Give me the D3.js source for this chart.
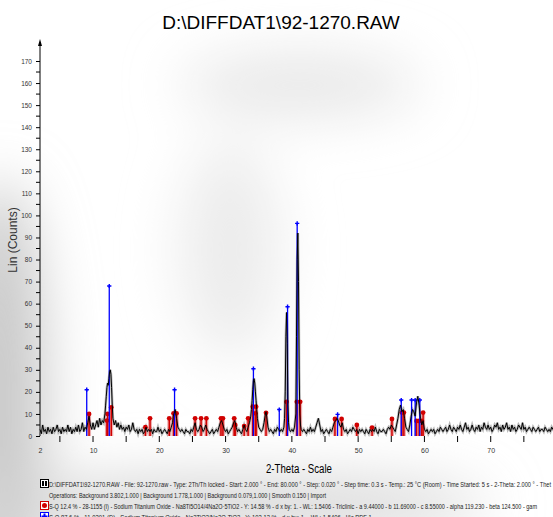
<!DOCTYPE html>
<html>
<head>
<meta charset="utf-8">
<script src="https://cdn.jsdelivr.net/npm/d3@7"></script>
<style>
  body { margin: 0; background: #fff; }
  svg { display: block; font-family: "Liberation Sans", Arial, sans-serif; }
</style>
</head>
<body>
<svg width="553" height="517"></svg>
<script>
// measured scan, [2-theta, counts]
var scan = [
  [2.0,3],[2.2,1],[2.4,5],[2.6,2],[2.8,3],[3.0,1],[3.2,4],[3.4,2],[3.6,3],[3.8,1],
  [4.0,4],[4.2,2],[4.4,3],[4.6,5],[4.8,2],[5.0,3],[5.2,1],[5.4,4],[5.6,2],[5.8,3],
  [6.0,2],[6.2,5],[6.4,2],[6.6,4],[6.8,1],[7.0,3],[7.2,2],[7.4,4],[7.6,2],[7.8,5],
  [8.0,2],[8.2,3],[8.4,6],[8.6,2],[8.8,4],[9.0,3],[9.2,6],[9.4,9],[9.6,5],[9.8,3],
  [10.0,6],[10.2,3],[10.4,5],[10.6,7],[10.8,4],[11.0,8],[11.2,5],[11.4,7],[11.6,6],
  [11.8,10],[11.9,14],[12.0,18],[12.1,22],[12.2,24],[12.3,23],[12.4,26],[12.5,29],
  [12.6,30],[12.7,28],[12.8,22],[12.9,14],[13.0,8],[13.2,5],[13.4,7],[13.6,4],[13.8,6],
  [14.0,3],[14.2,5],[14.4,3],[14.6,4],[14.8,2],[15.0,4],[15.2,3],[15.4,5],[15.6,2],[15.8,3],
  [16.0,6],[16.2,3],[16.4,2],[16.6,3],[16.8,1],[17.0,3],[17.2,2],[17.4,3],[17.6,1],[17.8,2],
  [18.0,4],[18.2,2],[18.4,3],[18.6,2],[18.8,3],[19.0,1],[19.2,3],[19.4,2],[19.6,2],[19.8,4],
  [20.0,2],[20.2,3],[20.4,1],[20.6,2],[20.8,3],[21.0,2],[21.2,1],[21.4,3],[21.6,2],[21.8,4],
  [22.0,6],[22.1,9],[22.2,10],[22.3,11],[22.4,12],[22.5,10],[22.6,8],[22.8,4],
  [23.0,3],[23.2,2],[23.4,3],[23.6,2],[23.8,1],[24.0,3],[24.2,2],[24.4,2],[24.6,1],[24.8,3],
  [25.0,2],[25.2,4],[25.4,6],[25.6,3],[25.8,2],[26.0,3],[26.2,5],[26.4,4],[26.6,2],[26.8,3],
  [27.0,5],[27.2,3],[27.4,2],[27.6,1],[27.8,2],[28.0,3],[28.2,1],[28.4,2],[28.6,3],[28.8,2],
  [29.0,4],[29.2,6],[29.4,7],[29.6,5],[29.8,3],[30.0,2],[30.2,3],[30.4,1],[30.6,2],[30.8,3],
  [31.0,4],[31.2,6],[31.4,7],[31.6,4],[31.8,2],[32.0,3],[32.2,2],[32.4,1],[32.6,3],[32.8,5],
  [33.0,3],[33.2,2],[33.4,4],[33.6,6],[33.8,9],[33.9,12],[34.0,16],[34.1,21],[34.2,25],
  [34.3,26],[34.4,24],[34.5,20],[34.6,16],[34.7,12],[34.8,8],[35.0,4],[35.2,3],[35.4,2],
  [35.6,3],[35.8,6],[36.0,10],[36.1,11],[36.2,9],[36.4,4],[36.6,2],[36.8,3],[37.0,2],
  [37.2,1],[37.4,3],[37.6,2],[37.8,4],[38.0,3],[38.2,2],[38.4,3],[38.6,2],[38.8,4],
  [38.9,8],[39.0,20],[39.1,45],[39.2,56],[39.3,42],[39.4,15],[39.5,6],[39.6,3],[39.8,2],
  [40.0,3],[40.2,2],[40.4,4],[40.6,10],[40.7,45],[40.8,80],[40.9,92],[41.0,70],[41.1,30],
  [41.2,10],[41.3,5],[41.4,3],[41.6,2],[41.8,3],[42.0,2],[42.2,1],[42.4,3],[42.6,2],[42.8,4],
  [43.0,2],[43.2,3],[43.4,2],[43.6,4],[43.8,6],[44.0,8],[44.2,5],[44.4,2],[44.6,3],[44.8,1],
  [45.0,2],[45.2,3],[45.4,2],[45.6,1],[45.8,3],[46.0,2],[46.2,4],[46.4,6],[46.6,7],[46.8,8],
  [47.0,7],[47.2,5],[47.4,4],[47.6,6],[47.8,3],[48.0,2],[48.2,3],[48.4,1],[48.6,2],[48.8,3],
  [49.0,2],[49.2,4],[49.4,3],[49.6,2],[49.8,3],[50.0,1],[50.2,3],[50.4,2],[50.6,3],[50.8,2],
  [51.0,1],[51.2,3],[51.4,2],[51.6,1],[51.8,3],[52.0,2],[52.2,3],[52.4,2],[52.6,4],[52.8,2],
  [53.0,1],[53.2,3],[53.4,2],[53.6,2],[53.8,3],[54.0,2],[54.2,1],[54.4,3],[54.6,4],[54.8,3],
  [55.0,5],[55.2,4],[55.4,3],[55.6,2],[55.8,5],[56.0,8],[56.2,12],[56.4,14],[56.6,11],
  [56.8,12],[57.0,8],[57.2,4],[57.4,3],[57.6,2],[57.8,5],[58.0,9],[58.2,12],[58.4,11],
  [58.6,9],[58.8,15],[59.0,18],[59.2,14],[59.4,8],[59.6,5],[59.8,7],[60.0,3],[60.2,2],
  [60.4,3],[60.6,1],[60.8,2],[61.0,3],[61.2,2],[61.4,3],[61.6,1],[61.8,2],[62.0,3],[62.2,2],
  [62.4,4],[62.6,3],[62.8,2],[63.0,3],[63.2,4],[63.4,2],[63.6,3],[63.8,5],[64.0,3],[64.2,2],
  [64.4,4],[64.6,3],[64.8,2],[65.0,4],[65.2,3],[65.4,5],[65.6,3],[65.8,2],[66.0,4],[66.2,6],
  [66.4,3],[66.6,4],[66.8,2],[67.0,3],[67.2,5],[67.4,3],[67.6,2],[67.8,4],[68.0,3],[68.2,5],
  [68.4,2],[68.6,4],[68.8,3],[69.0,6],[69.2,4],[69.4,3],[69.6,5],[69.8,3],[70.0,4],[70.2,2],
  [70.4,3],[70.6,5],[70.8,4],[71.0,6],[71.2,3],[71.4,4],[71.6,2],[71.8,5],[72.0,3],[72.2,4],
  [72.4,6],[72.6,3],[72.8,4],[73.0,2],[73.2,5],[73.4,3],[73.6,4],[73.8,2],[74.0,3],[74.2,5],
  [74.4,4],[74.6,3],[74.8,6],[75.0,3],[75.2,4],[75.4,2],[75.6,3],[75.8,4],[76.0,3],[76.2,2],
  [76.4,4],[76.6,3],[76.8,2],[77.0,3],[77.2,4],[77.4,2],[77.6,3],[77.8,3],[78.0,2],[78.2,4],
  [78.4,3],[78.6,2],[78.8,3],[79.0,2],[79.2,4],[79.4,3],[79.6,2],[79.8,3],[80.0,2]
];

// 11-0291 Na2TiO3 (blue), 28-1155 Na8Ti5O14 (red)
var blueSticks = [[9.05,21],[12.45,68],[22.3,21],[34.2,30.5],[38.1,12],[39.35,58.6],
  [40.8,96.4],[46.9,9.8],[56.5,16.3],[58.06,16.3],[58.6,16.3],[59.3,16.3]];
var redSticks = [[9.4,10],[12.1,7],[12.2,10],[12.75,13],[17.9,4],[18.6,8],[21.5,8],
  [22.15,10.3],[22.6,10.3],[25.4,8],[26.3,8],[27.1,8],[29.3,8],[29.6,8],[31.3,8],[31.45,5],
  [32.8,4.5],[33.4,8],[34.1,13.3],[34.5,10.3],[34.6,13.3],[36.1,10.5],[39.2,15.5],
  [40.75,15.5],[41.25,15.5],[46.5,7.7],[47.5,7.7],[49.8,5],[52.1,3.8],[55.1,7.7],
  [56.6,10.6],[56.9,10.6],[58.8,6.8],[59.2,6.8],[59.6,6.8],[59.8,10.6]];

var yTicks = d3.range(0, 171, 10);
var xTicks = [2, 10, 20, 30, 40, 50, 60, 70];

var title = "D:\\DIFFDAT1\\92-1270.RAW";
var legendLines = [
  "D:\\DIFFDAT1\\92-1270.RAW - File: 92-1270.raw - Type: 2Th/Th locked - Start: 2.000 \u00b0 - End: 80.000 \u00b0 - Step: 0.020 \u00b0 - Step time: 0.3 s - Temp.: 25 \u00b0C (Room) - Time Started: 5 s - 2-Theta: 2.000 \u00b0 - Thet",
  "Operations: Background 3.802,1.000 | Background 1.778,1.000 | Background 0.079,1.000 | Smooth 0.150 | Import",
  "S-Q 12.4 % - 28-1155 (I) - Sodium Titanium Oxide - Na8Ti5O14/4Na2O\u00b75TiO2 - Y: 14.58 % - d x by: 1. - WL: 1.5406 - Triclinic - a 9.44000 - b 11.69000 - c 8.55000 - alpha 119.230 - beta 124.500 - gam",
  "S-Q 87.6 % - 11-0291 (D) - Sodium Titanium Oxide - Na2TiO3/Na2O\u00b7TiO2 - Y: 103.12 % - d x by: 1. - WL: 1.5406 - I/Ic PDF 1. -"
];
var legendWidths = [502, 277, 488, 328];

var svg = d3.select("svg");

// soft grey shadows behind everything
var defs = svg.append("defs");
defs.append("filter").attr("id", "blur")
  .attr("x", "-50%").attr("y", "-50%").attr("width", "200%").attr("height", "200%")
  .append("feGaussianBlur").attr("stdDeviation", 28);
var shade = svg.append("g").attr("filter", "url(#blur)");
shade.append("ellipse").attr("cx", 0).attr("cy", 400).attr("rx", 45).attr("ry", 220)
  .attr("fill", "#c8c8c8");
shade.append("ellipse").attr("cx", 230).attr("cy", 505).attr("rx", 260).attr("ry", 28)
  .attr("fill", "#d6d6d6");
shade.append("ellipse").attr("cx", 300).attr("cy", 85).attr("rx", 120).attr("ry", 30)
  .attr("fill", "#e6e6e6");
shade.append("ellipse").attr("cx", 230).attr("cy", 250).attr("rx", 50).attr("ry", 110)
  .attr("fill", "#ececec");

var x = d3.scaleLinear().domain([2, 80]).range([40, 557]);
var y = d3.scaleLinear().domain([0, 170]).range([436, 61]);

svg.append("text")
  .attr("x", 281).attr("y", 29)
  .attr("text-anchor", "middle")
  .attr("font-size", 19)
  .text(title);

// y axis
var yAxis = svg.append("g")
  .attr("transform", "translate(40,0)")
  .call(d3.axisLeft(y).tickValues(yTicks).tickSize(4).tickPadding(4));
yAxis.select(".domain").remove();
yAxis.selectAll("text").attr("font-size", 6.5).attr("fill", "#333");
svg.append("g")
  .selectAll("line")
  .data(d3.range(5, 171, 10))
  .enter().append("line")
  .attr("x1", 36).attr("x2", 40)
  .attr("y1", function (d) { return y(d); })
  .attr("y2", function (d) { return y(d); })
  .attr("stroke", "#000");
svg.append("line")
  .attr("x1", 40).attr("x2", 40).attr("y1", 436).attr("y2", 42)
  .attr("stroke", "#000");
svg.append("path")
  .attr("d", "M40,39L38,46L42,46Z")
  .attr("fill", "#000");

svg.append("text")
  .attr("transform", "translate(17,240) rotate(-90)")
  .attr("text-anchor", "middle")
  .attr("font-size", 12)
  .attr("fill", "#333")
  .text("Lin (Counts)");

// x axis
var xAxis = svg.append("g")
  .attr("transform", "translate(0,436)")
  .call(d3.axisBottom(x).tickValues(xTicks).tickSize(0).tickPadding(12)
    .tickFormat(d3.format("d")));
xAxis.select(".domain").remove();
xAxis.selectAll("text").attr("font-size", 7).attr("fill", "#333");
svg.append("g")
  .selectAll("line")
  .data(d3.range(5, 80, 5))
  .enter().append("line")
  .attr("x1", function (d) { return x(d); })
  .attr("x2", function (d) { return x(d); })
  .attr("y1", 436).attr("y2", 442)
  .attr("stroke", "#000");

svg.append("text")
  .attr("x", 299).attr("y", 473)
  .attr("text-anchor", "middle")
  .attr("font-size", 12)
  .attr("textLength", 66)
  .attr("lengthAdjust", "spacingAndGlyphs")
  .text("2-Theta - Scale");

// scan line, grey halo under black
var line = d3.line()
  .x(function (d) { return x(d[0]); })
  .y(function (d) { return y(d[1]); });
svg.append("path").datum(scan)
  .attr("d", line).attr("fill", "none")
  .attr("stroke", "#9a9a9a").attr("stroke-width", 2.6).attr("opacity", 0.7);

// reference sticks
var red = svg.append("g");
red.selectAll("rect")
  .data(redSticks)
  .enter().append("rect")
  .attr("x", function (d) { return x(d[0]) - 2; })
  .attr("y", function (d) { return y(d[1]); })
  .attr("width", 4)
  .attr("height", function (d) { return 436 - y(d[1]); })
  .attr("fill", "#e27a7a").attr("opacity", 0.6);
red.selectAll("line")
  .data(redSticks)
  .enter().append("line")
  .attr("x1", function (d) { return x(d[0]); })
  .attr("x2", function (d) { return x(d[0]); })
  .attr("y1", 436)
  .attr("y2", function (d) { return y(d[1]); })
  .attr("stroke", "#d00000").attr("stroke-width", 1.5);

var blue = svg.append("g");
blue.selectAll("line")
  .data(blueSticks)
  .enter().append("line")
  .attr("x1", function (d) { return x(d[0]); })
  .attr("x2", function (d) { return x(d[0]); })
  .attr("y1", 436)
  .attr("y2", function (d) { return y(d[1]); })
  .attr("stroke", "#0000ff").attr("stroke-width", 1.3);

svg.append("path").datum(scan)
  .attr("d", line).attr("fill", "none")
  .attr("stroke", "#000").attr("stroke-width", 1);

blue.selectAll("path")
  .data(blueSticks)
  .enter().append("path")
  .attr("transform", function (d) { return "translate(" + x(d[0]) + "," + y(d[1]) + ")"; })
  .attr("d", d3.symbol().type(d3.symbolCross).size(10))
  .attr("fill", "#0000ff");
red.selectAll("circle")
  .data(redSticks)
  .enter().append("circle")
  .attr("cx", function (d) { return x(d[0]); })
  .attr("cy", function (d) { return y(d[1]); })
  .attr("r", 2.4)
  .attr("fill", "#d00000");

// legend
var legend = svg.append("g");
legend.selectAll("text")
  .data(legendLines)
  .enter().append("text")
  .attr("x", 49)
  .attr("y", function (d, i) { return 487 + i * 11; })
  .attr("font-size", 6.3)
  .attr("fill", "#222")
  .attr("textLength", function (d, i) { return legendWidths[i]; })
  .attr("lengthAdjust", "spacingAndGlyphs")
  .text(function (d) { return d; });

// icons
legend.append("rect").attr("x", 40.5).attr("y", 479.5).attr("width", 8).attr("height", 8)
  .attr("fill", "#fff").attr("stroke", "#000");
legend.append("rect").attr("x", 42).attr("y", 481).attr("width", 2).attr("height", 5).attr("fill", "#000");
legend.append("rect").attr("x", 45).attr("y", 481).attr("width", 2).attr("height", 5).attr("fill", "#000");
legend.append("rect").attr("x", 40.5).attr("y", 501.5).attr("width", 8).attr("height", 8)
  .attr("fill", "#fff").attr("stroke", "#d00000");
legend.append("circle").attr("cx", 44.5).attr("cy", 505.5).attr("r", 2.5).attr("fill", "#d00000");
legend.append("rect").attr("x", 40.5).attr("y", 512.5).attr("width", 8).attr("height", 8)
  .attr("fill", "#fff").attr("stroke", "#0000ff");
legend.append("path")
  .attr("transform", "translate(44.5,516.5)")
  .attr("d", d3.symbol().type(d3.symbolCross).size(20))
  .attr("fill", "#0000ff");
</script>
</body>
</html>
